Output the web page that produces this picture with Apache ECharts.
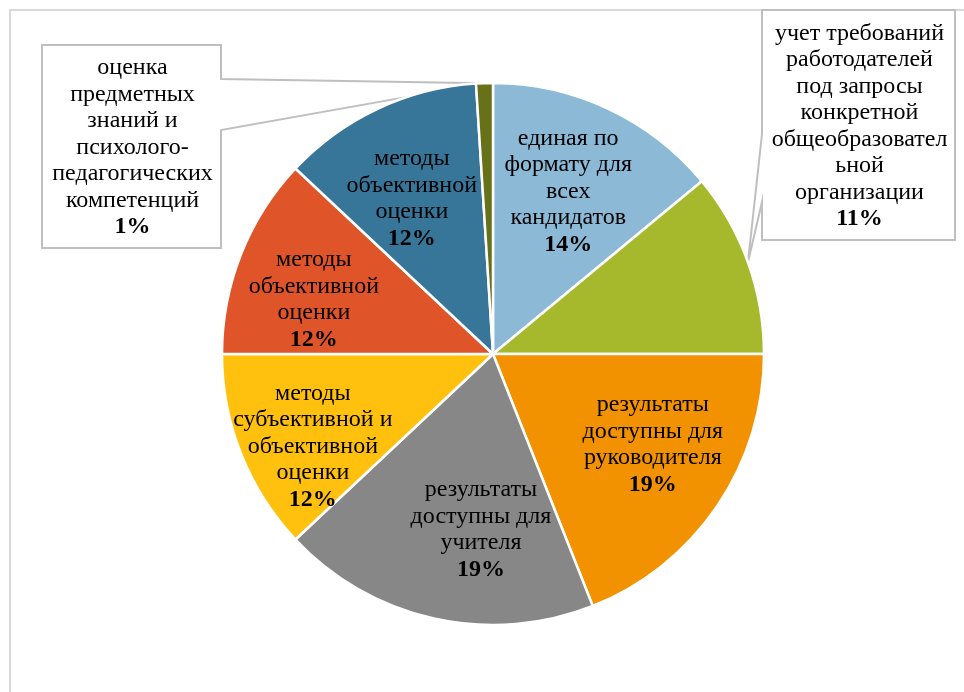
<!DOCTYPE html>
<html>
<head>
<meta charset="utf-8">
<script src="https://cdn.jsdelivr.net/npm/echarts@6/dist/echarts.min.js"></script>
<style>
  html, body { margin: 0; padding: 0; background: #fff; }
  #main { width: 964px; height: 692px; }
</style>
</head>
<body>
<div id="main"></div>
<script>
// Slice names (with the manual line breaks used in the labels), shares in %, colours
const categories = [
  'единая по\nформату для\nвсех\nкандидатов',
  'учет требований\nработодателей\nпод запросы\nконкретной\nобщеобразовател\nьной\nорганизации',
  'результаты\nдоступны для\nруководителя',
  'результаты\nдоступны для\nучителя',
  'методы\nсубъективной и\nобъективной\nоценки',
  'методы\nобъективной\nоценки',
  'методы\nобъективной\nоценки',
  'оценка\nпредметных\nзнаний и\nпсихолого-\nпедагогических\nкомпетенций'
];
const shares = [14, 11, 19, 19, 12, 12, 12, 1];
const colors = ['#8BB9D6', '#A6B82B', '#F39200', '#878787', '#FFC10E', '#E0542A', '#377699', '#667118'];

// Pie geometry
const CX = 493, CY = 354, R = 271;
// Inside labels sit further out than the default half radius
const INNER_LABEL_SCALE = 1.36;
// Small per-slice label shifts (px) on top of the radial placement
const labelNudge = [[-5, 8], [0, 0], [4, -15], [29, -8], [-5, 23], [-4, 15], [-1, 15], [0, 0]];

// Slices whose labels live in callout boxes: box rectangle and the span of the
// box edge the pointer opens from
const callouts = {
  7: { box: [42, 45, 221, 248], side: 'right', open: [79, 130] },
  1: { box: [762, 10, 955, 240], side: 'left', open: [134, 202] }
};

const textStyle = { fontFamily: 'Liberation Serif', fontSize: 24, lineHeight: 26.5, color: '#000' };

const chart = echarts.init(document.getElementById('main'), null, { renderer: 'canvas' });

const data = categories.map((name, i) => {
  const item = { name: name, value: shares[i], itemStyle: { color: colors[i] } };
  if (callouts[i]) {
    item.label = { position: 'outside' };
    item.labelLine = { show: false };
  }
  return item;
});

const option = {
  backgroundColor: '#fff',
  animation: false,
  graphic: [{
    type: 'rect',
    shape: { x: 10, y: 10, width: 1000, height: 1000 },
    style: { fill: 'none', stroke: '#D9D9D9', lineWidth: 2 },
    silent: true
  }],
  series: [{
    type: 'pie',
    center: [CX, CY],
    radius: [0, R],
    startAngle: 90,
    clockwise: true,
    avoidLabelOverlap: false,
    itemStyle: { borderColor: '#fff', borderWidth: 2.5 },
    label: {
      show: true,
      position: 'inside',
      color: '#000',
      formatter: p => p.name.split('\n').map(s => '{n|' + s + '}').join('\n') + '\n{p|' + p.value + '%}',
      rich: {
        n: Object.assign({}, textStyle),
        p: Object.assign({ fontWeight: 'bold' }, textStyle)
      }
    },
    labelLayout: function (p) {
      const c = callouts[p.dataIndex];
      if (c) {
        const b = c.box;
        return { x: (b[0] + b[2]) / 2 + 1, y: (b[1] + b[3]) / 2 + 1, align: 'center', verticalAlign: 'middle' };
      }
      const r = p.labelRect;
      const lx = r.x + r.width / 2, ly = r.y + r.height / 2;
      const d = labelNudge[p.dataIndex];
      return {
        x: CX + (lx - CX) * INNER_LABEL_SCALE + d[0],
        y: CY + (ly - CY) * INNER_LABEL_SCALE + d[1],
        align: 'center',
        verticalAlign: 'middle'
      };
    },
    data: data
  }]
};

chart.setOption(option);

// Callout boxes with a wedge pointing at the middle of the slice's outer arc
const seriesData = chart.getModel().getSeriesByIndex(0).getData();
const calloutShapes = Object.keys(callouts).map(k => {
  const i = +k;
  const c = callouts[i];
  const lay = seriesData.getItemLayout(i);
  const mid = (lay.startAngle + lay.endAngle) / 2;
  const tip = [lay.cx + lay.r * Math.cos(mid), lay.cy + lay.r * Math.sin(mid)];
  const [x0, y0, x1, y1] = c.box;
  let pts;
  if (c.side === 'right') {
    pts = [[x0, y0], [x1, y0], [x1, c.open[0]], tip, [x1, c.open[1]], [x1, y1], [x0, y1]];
  } else {
    pts = [[x0, y0], [x1, y0], [x1, y1], [x0, y1], [x0, c.open[1]], tip, [x0, c.open[0]]];
  }
  return {
    type: 'polygon',
    shape: { points: pts },
    style: { fill: '#fff', stroke: '#BFBFBF', lineWidth: 2 },
    silent: true
  };
});

chart.setOption({ graphic: option.graphic.concat(calloutShapes) });
</script>
</body>
</html>
